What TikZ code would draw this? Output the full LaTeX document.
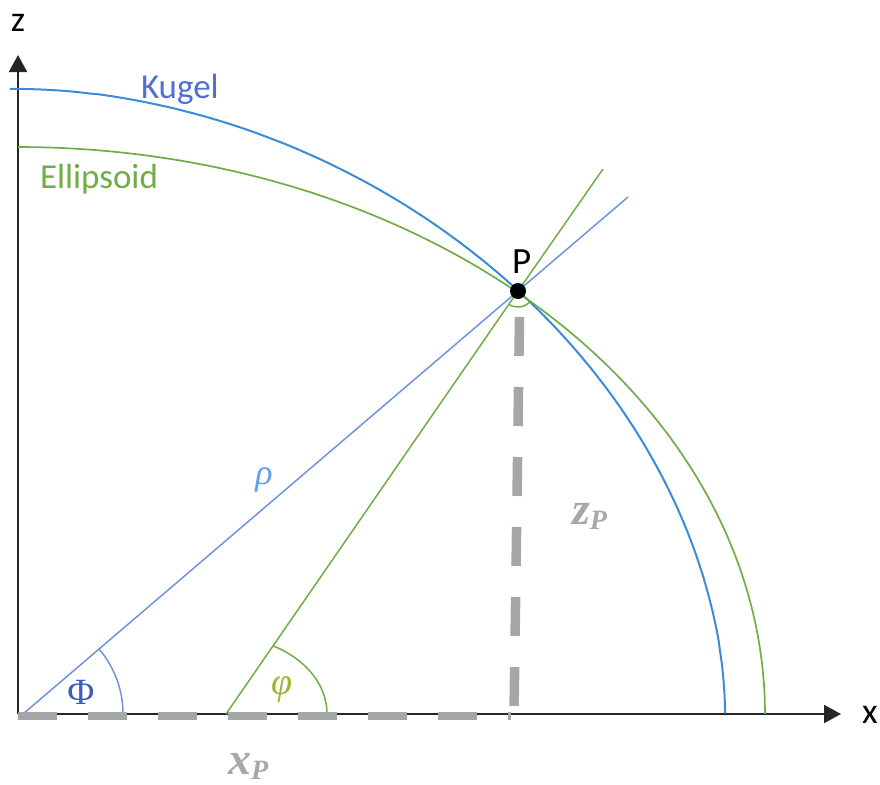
\documentclass[tikz,border=0pt]{standalone}
\usepackage{fontspec}
\setmainfont{Carlito}
\newfontfamily\serif{Liberation Serif}
\usetikzlibrary{arrows.meta}
\definecolor{kugelblue}{HTML}{3A8CDA}
\definecolor{rhoblue}{HTML}{7094DC}
\definecolor{kugeltext}{HTML}{4F6FD4}
\definecolor{ellgreen}{HTML}{70AD47}
\definecolor{phigreen}{HTML}{98B833}
\definecolor{dashgray}{HTML}{A6A6A6}
\definecolor{labgray}{HTML}{A8A8A8}
\definecolor{phiblue}{HTML}{3D5CC4}
\definecolor{rholab}{HTML}{5EA2EA}
\begin{document}
\begin{tikzpicture}[x=1pt,y=-1pt,
  axisline/.style={line width=2pt, draw=black!85, -{Triangle[length=17pt,width=18pt]}},
  kugel/.style={line width=2pt, draw=kugelblue},
  ellcurve/.style={line width=1.7pt, draw=ellgreen},
  rholine/.style={line width=1.5pt, draw=rhoblue},
  greenline/.style={line width=1.5pt, draw=ellgreen},
  gdash/.style={line width=8.5pt, draw=dashgray, dash pattern=on 39pt off 31pt},
  lab/.style={inner sep=0pt, outer sep=0pt},
]
\useasboundingbox (0,0) rectangle (880,784);

% named points
\coordinate (O) at (18,714);
\coordinate (Ztip) at (18,55);
\coordinate (Xtip) at (841,714);
\coordinate (P) at (518,291);
\coordinate (rhoStart) at (23,714);
\coordinate (rhoEnd) at (628,197);
\coordinate (phStart) at (226,714);
\coordinate (phEnd) at (603,169);
\coordinate (xpStart) at (18,716);
\coordinate (xpEnd) at (511,716);
\coordinate (zpTop) at (519.5,317);
\coordinate (zpBot) at (514,714);

% axes
\draw[axisline] (O) -- (Ztip);
\draw[axisline] (O) -- (Xtip);

% sphere (Kugel)
\draw[kugel] (10,89) -- plot[domain=89.9:0.1, samples=150]
  ({18+707*pow(cos(\x),1.061)},{714-625*pow(sin(\x),1.061)});

% ellipsoid
\draw[ellcurve] plot[domain=90:0, samples=150]
  ({18+747*cos(\x)},{714-567*sin(\x)});

% rho line and normal line
\draw[rholine] (rhoStart) -- (P) -- (rhoEnd);
\draw[greenline] (phStart) -- (P) -- (phEnd);

% angle arcs
\draw[line width=1.5pt, draw=rhoblue] plot[domain=0:40.5, samples=40]
  ({23+100*cos(\x)},{714-100*sin(\x)});
\draw[line width=1.5pt, draw=ellgreen] plot[domain=0:62.3, samples=40]
  ({226+101*cos(\x)},{714-77*sin(\x)});
\draw[line width=1.5pt, draw=ellgreen] plot[domain=236:322, samples=30]
  ({518+16*cos(\x)},{291-16*sin(\x)});

% gray dashed projections
\draw[gdash] (xpStart) -- (xpEnd);
\draw[gdash, line width=9.5pt] (zpTop) -- (zpBot);

% point P
\fill[black] (P) circle[radius=8pt];

% labels
\node[lab, font=\fontsize{36}{40}\selectfont] (zlab) at (18,23) {z};
\node[lab, font=\fontsize{36}{40}\selectfont] (xlab) at (870,715) {x};
\node[lab, anchor=base west, text=kugeltext, font=\fontsize{35}{40}\selectfont] (kugellab) at (141,98) {Kugel};
\node[lab, anchor=base west, text=ellgreen, font=\fontsize{35}{40}\selectfont] (elllab) at (40,188) {Ellipsoid};
\node[lab, anchor=base west, font=\fontsize{37}{40}\selectfont] (plab) at (512,273) {P};
\node[lab, text=rholab, font=\serif\itshape\fontsize{36}{40}\selectfont] (rholab) at (264,480) {ρ};
\node[lab, text=phiblue, font=\serif\fontsize{37}{40}\selectfont] (Philab) at (81,692) {Φ};
\node[lab, text=phigreen, font=\serif\itshape\fontsize{38}{40}\selectfont] (philab) at (282,690) {φ};
\node[lab, anchor=base west, text=labgray, font=\serif\bfseries\itshape\fontsize{46}{50}\selectfont] (xplab) at (228,774)
  {x\raisebox{-5pt}{\fontsize{28}{30}\selectfont P}};
\node[lab, anchor=base west, text=labgray, font=\serif\bfseries\itshape\fontsize{46}{50}\selectfont] (zplab) at (572,524)
  {z\raisebox{-5pt}{\fontsize{28}{30}\selectfont P}};
\end{tikzpicture}
\end{document}
